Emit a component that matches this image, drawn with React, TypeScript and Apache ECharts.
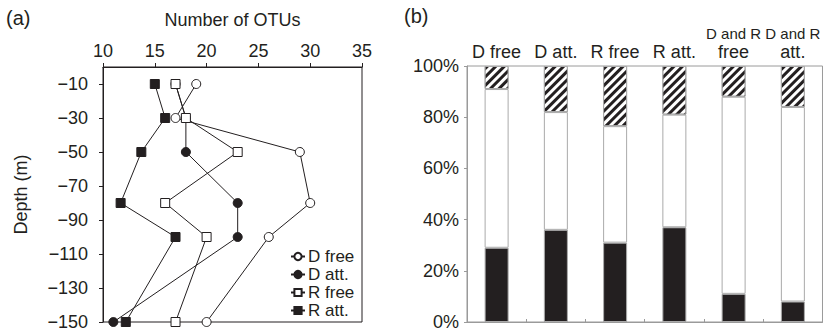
import React, { useEffect, useRef } from 'react';
import * as echarts from 'echarts';

// Panel (a): number of OTUs by depth
const depths = [-10, -30, -50, -80, -100, -150];
const dFree = [19, 17, 29, 30, 26, 20];
const dAtt = [17, 18, 18, 23, 23, 11];
const rFree = [17, 18, 23, 16, 20, 17];
const rAtt = [15, 16, 13.7, 11.7, 17, 12.2];
const seriesNamesA = ['D free', 'D att.', 'R free', 'R att.'];

// Panel (b): composition (%)
const categoriesB = ['D free', 'D att.', 'R free', 'R att.', 'D and R\nfree', 'D and R\natt.'];
const blackPct = [29, 36, 31, 37, 11, 8];
const whitePct = [62, 46, 45.5, 44, 77, 76];
const hatchPct = [9, 18, 23.5, 19, 12, 16];

const FONT = '"Liberation Sans", Arial, sans-serif';
const INK = '#231f20';
const GREY = '#9a9a9a';
const FS = 18;

export default function App() {
  const ref = useRef<HTMLDivElement>(null);
  useEffect(() => {
    if (!ref.current) return;
    const chart = echarts.init(ref.current, null, { renderer: 'svg' });
    const pts = (arr: number[]) => arr.map((v, i) => [v, depths[i]]);
    const lineSeries = (name: string, data: number[], symbol: string, filled: boolean) => ({
      name,
      type: 'line',
      xAxisIndex: 0,
      yAxisIndex: 0,
      data: pts(data),
      symbol,
      symbolSize: 9,
      showAllSymbol: true,
      lineStyle: { color: INK, width: 1 },
      itemStyle: { color: filled ? INK : '#fff', borderColor: INK, borderWidth: 1 },
    });
    chart.setOption({
      animation: false,
      textStyle: { fontFamily: FONT, color: INK },
      title: [
        { text: '(a)', left: 6, top: 8, padding: 0, textStyle: { fontSize: 20, fontWeight: 'normal', color: INK, fontFamily: FONT } },
        { text: '(b)', left: 404, top: 6, padding: 0, textStyle: { fontSize: 20, fontWeight: 'normal', color: INK, fontFamily: FONT } },
      ],
      legend: {
        data: seriesNamesA,
        orient: 'vertical',
        left: 290,
        top: 248,
        padding: 0,
        itemWidth: 14,
        itemHeight: 9,
        itemGap: 1,
        textStyle: { fontSize: 17, lineHeight: 16, color: INK, fontFamily: FONT, padding: [0, 0, 0, -2] },
      },
      grid: [
        { left: 103, top: 67, width: 259, height: 255, show: true, borderColor: INK, borderWidth: 1, backgroundColor: 'transparent' },
        { left: 467, top: 66, width: 360, height: 256, show: true, borderColor: GREY, borderWidth: 1, backgroundColor: 'transparent' },
      ],
      xAxis: [
        {
          type: 'value',
          gridIndex: 0,
          position: 'top',
          min: 10,
          max: 35,
          interval: 5,
          name: 'Number of OTUs',
          nameLocation: 'middle',
          nameGap: 38,
          nameTextStyle: { fontSize: FS, color: INK, fontFamily: FONT },
          axisLine: { show: true, lineStyle: { color: INK, width: 1 } },
          axisTick: { show: true, length: 4, lineStyle: { color: INK } },
          splitLine: { show: false },
          axisLabel: { fontSize: FS, color: INK, margin: 7, fontFamily: FONT },
        },
        {
          type: 'category',
          gridIndex: 1,
          position: 'top',
          data: categoriesB,
          axisLine: { show: true, lineStyle: { color: GREY, width: 1 } },
          axisTick: { show: true, length: 3, alignWithLabel: false, lineStyle: { color: GREY } },
          axisLabel: {
            interval: 0,
            margin: 4,
            color: INK,
            fontFamily: FONT,
            fontSize: FS,
            formatter: (v: string) => {
              if (v.indexOf('\n') >= 0) {
                const [a, b] = v.split('\n');
                return `{s|${a}}\n{n|${b}}`;
              }
              return `{n|${v}}`;
            },
            rich: {
              s: { fontSize: 15, fontFamily: FONT, color: INK, lineHeight: 18 },
              n: { fontSize: FS, fontFamily: FONT, color: INK, lineHeight: 20 },
            },
          },
        },
      ],
      yAxis: [
        {
          type: 'value',
          gridIndex: 0,
          min: -150,
          max: 0,
          interval: 20,
          name: 'Depth (m)',
          nameLocation: 'middle',
          nameGap: 73,
          nameRotate: 90,
          nameTextStyle: { fontSize: FS, color: INK, fontFamily: FONT },
          axisLine: { show: true, lineStyle: { color: INK, width: 1 } },
          axisTick: { show: true, length: 4, lineStyle: { color: INK } },
          splitLine: { show: false },
          axisLabel: {
            fontSize: FS,
            color: INK,
            margin: 15,
            fontFamily: FONT,
            showMaxLabel: false,
            formatter: (v: number) => (v === 0 ? '' : '\u2212' + Math.abs(v)),
          },
        },
        {
          type: 'value',
          gridIndex: 1,
          min: 0,
          max: 100,
          interval: 20,
          axisLine: { show: true, lineStyle: { color: GREY, width: 1 } },
          axisTick: { show: true, length: 3, lineStyle: { color: GREY } },
          splitLine: { show: false },
          axisLabel: { fontSize: FS, color: INK, margin: 8, fontFamily: FONT, formatter: '{value}%' },
        },
      ],
      series: [
        lineSeries('D free', dFree, 'circle', false),
        lineSeries('D att.', dAtt, 'circle', true),
        lineSeries('R free', rFree, 'rect', false),
        lineSeries('R att.', rAtt, 'rect', true),
        {
          name: 'black',
          type: 'bar',
          xAxisIndex: 1,
          yAxisIndex: 1,
          stack: 'b',
          barWidth: 24,
          data: blackPct,
          itemStyle: { color: INK, borderColor: '#aaa', borderWidth: 1 },
        },
        {
          name: 'white',
          type: 'bar',
          xAxisIndex: 1,
          yAxisIndex: 1,
          stack: 'b',
          barWidth: 24,
          data: whitePct,
          itemStyle: { color: '#fff', borderColor: '#aaa', borderWidth: 1 },
        },
        {
          name: 'hatched',
          type: 'bar',
          xAxisIndex: 1,
          yAxisIndex: 1,
          stack: 'b',
          barWidth: 24,
          data: hatchPct,
          itemStyle: {
            color: '#fff',
            borderColor: '#aaa',
            borderWidth: 1,
            decal: {
              symbol: 'rect',
              symbolSize: 1,
              color: INK,
              backgroundColor: '#fff',
              dashArrayX: [1, 0],
              dashArrayY: [2.5, 2.5],
              rotation: -Math.PI / 4,
            },
          },
        },
      ],
    });
    return () => chart.dispose();
  }, []);
  return <div ref={ref} style={{ position: 'fixed', left: 0, top: 0, width: 823, height: 333, background: '#fff' }} />;
}
